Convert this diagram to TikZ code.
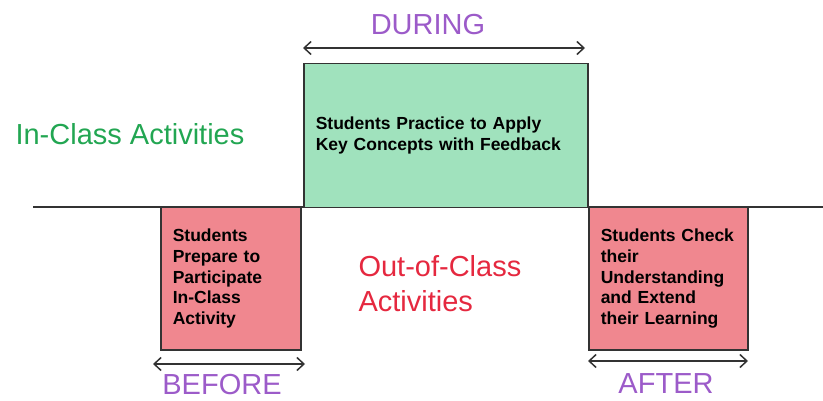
\documentclass[tikz,border=0pt]{standalone}
\usepackage{fontspec}
\setmainfont{Liberation Sans}
\usepackage{tikz}
\usetikzlibrary{arrows.meta, positioning}
\definecolor{ingreen}{HTML}{A0E2BD}
\definecolor{outpink}{HTML}{F0878F}
\definecolor{intext}{HTML}{22A652}
\definecolor{outtext}{HTML}{E5283F}
\definecolor{phasetext}{HTML}{9C5BC9}

\begin{document}
\begin{tikzpicture}[x=1pt, y=-1pt,
    actbox/.style={draw=black!80, line width=1.5pt, rectangle, anchor=north west, inner xsep=12pt, inner ysep=0pt, align=left, font=\fontsize{17.5}{20.7}\selectfont\bfseries},
    handtext/.style={font=\fontsize{29}{35}\selectfont},
    span/.style={{Straight Barb[length=7pt, width=13pt]}-{Straight Barb[length=7pt, width=13pt]}, line width=1.5pt, draw=black!80}]
    \useasboundingbox (0,0) rectangle (823,401);
    % divide between in-class and out-of-class
    \coordinate (linel) at (33,207);
    \coordinate (liner) at (823,207);
    \draw[black!80, line width=1.3pt] (linel) -- (liner);
    % activity boxes
    \node[actbox, fill=ingreen, text width=260pt, minimum height=144pt] (practice) at (303,63) {Students Practice to Apply\\Key Concepts with Feedback};
    \node[actbox, fill=outpink, text width=116pt, minimum height=142pt] (prepare) at (160,207) {Students\\Prepare to\\Participate\\In-Class\\Activity};
    \node[actbox, fill=outpink, text width=135pt, minimum height=142pt] (check) at (588,207) {Students Check\\their\\Understanding\\and Extend\\their Learning};
    \node[handtext, text=intext, anchor=west] (inclass) at (12,134) {In-Class Activities};
    \node[handtext, text=outtext, align=left, anchor=north west] (outclass) at (355,252) {Out-of-Class\\Activities};
    % phases
    \coordinate (dw) at (303,48);
    \coordinate (de) at (585,48);
    \draw[span] (dw) -- (de);
    \node[handtext, text=phasetext] (during) at (428,25) {DURING};
    \coordinate (bw) at (153,364);
    \coordinate (be) at (305,364);
    \draw[span] (bw) -- (be);
    \node[handtext, text=phasetext] (before) at (222,385) {BEFORE};
    \coordinate (aw) at (588,361);
    \coordinate (ae) at (748,361);
    \draw[span] (aw) -- (ae);
    \node[handtext, text=phasetext] (after) at (666,384) {AFTER};
\end{tikzpicture}
\end{document}
